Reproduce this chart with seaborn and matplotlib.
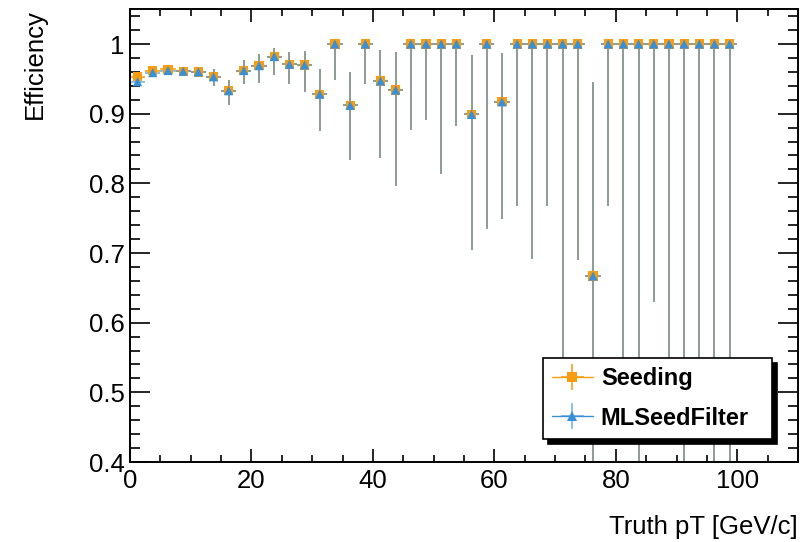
import numpy as np
import pandas as pd
import matplotlib
matplotlib.use("Agg")
import matplotlib.pyplot as plt
from matplotlib.lines import Line2D
from matplotlib.legend_handler import HandlerErrorbar
import seaborn as sns

# ---- data: efficiency per 2.5 GeV/c truth-pT bin ----
pt_centers = [1.25, 3.75, 6.25, 8.75, 11.25, 13.75, 16.25, 18.75, 21.25, 23.75,
              26.25, 28.75, 31.25, 33.75, 36.25, 38.75, 41.25, 43.75, 46.25, 48.75,
              51.25, 53.75, 56.25, 58.75, 61.25, 63.75, 66.25, 68.75, 71.25, 73.75,
              76.25, 78.75, 81.25, 83.75, 86.25, 88.75, 91.25, 93.75, 96.25, 98.75]
bin_half_width = [1.25] * 40

seeding_eff = [0.953, 0.962, 0.964, 0.961, 0.960, 0.953, 0.933, 0.962, 0.969, 0.982,
               0.971, 0.970, 0.928, 1.000, 0.912, 1.000, 0.947, 0.934, 1.000, 1.000,
               1.000, 1.000, 0.899, 1.000, 0.917, 1.000, 1.000, 1.000, 1.000, 1.000,
               0.667, 1.000, 1.000, 1.000, 1.000, 1.000, 1.000, 1.000, 1.000, 1.000]
seeding_lo = [0.948, 0.957, 0.959, 0.955, 0.952, 0.940, 0.913, 0.943, 0.944, 0.955,
              0.943, 0.931, 0.875, 0.949, 0.833, 0.942, 0.836, 0.796, 0.876, 0.891,
              0.814, 0.883, 0.705, 0.735, 0.749, 0.768, 0.691, 0.768, 0.500, 0.690,
              0.300, 0.768, 0.500, 0.160, 0.630, 0.500, 0.160, 0.500, 0.160, 0.160]
seeding_hi = [0.958, 0.966, 0.968, 0.966, 0.967, 0.964, 0.948, 0.977, 0.985, 0.994,
              0.988, 0.990, 0.964, 1.000, 0.960, 1.000, 0.992, 0.989, 1.000, 1.000,
              1.000, 1.000, 0.984, 1.000, 0.987, 1.000, 1.000, 1.000, 1.000, 1.000,
              0.945, 1.000, 1.000, 1.000, 1.000, 1.000, 1.000, 1.000, 1.000, 1.000]

mlfilter_eff = [0.946, 0.959, 0.962, 0.961, 0.960, 0.953, 0.933, 0.962, 0.969, 0.982,
                0.971, 0.970, 0.928, 1.000, 0.912, 1.000, 0.947, 0.934, 1.000, 1.000,
                1.000, 1.000, 0.899, 1.000, 0.917, 1.000, 1.000, 1.000, 1.000, 1.000,
                0.667, 1.000, 1.000, 1.000, 1.000, 1.000, 1.000, 1.000, 1.000, 1.000]
mlfilter_lo = [0.941, 0.954, 0.957, 0.955, 0.952, 0.940, 0.913, 0.943, 0.944, 0.955,
               0.943, 0.931, 0.875, 0.949, 0.833, 0.942, 0.836, 0.796, 0.876, 0.891,
               0.814, 0.883, 0.705, 0.735, 0.749, 0.768, 0.691, 0.768, 0.500, 0.690,
               0.300, 0.768, 0.500, 0.160, 0.630, 0.500, 0.160, 0.500, 0.160, 0.160]
mlfilter_hi = [0.951, 0.964, 0.966, 0.966, 0.967, 0.964, 0.948, 0.977, 0.985, 0.994,
               0.988, 0.990, 0.964, 1.000, 0.960, 1.000, 0.992, 0.989, 1.000, 1.000,
               1.000, 1.000, 0.984, 1.000, 0.987, 1.000, 1.000, 1.000, 1.000, 1.000,
               0.945, 1.000, 1.000, 1.000, 1.000, 1.000, 1.000, 1.000, 1.000, 1.000]

series_names = ["Seeding", "MLSeedFilter"]
x_ticks = [0, 20, 40, 60, 80, 100]
x_tick_labels = ["0", "20", "40", "60", "80", "100"]
y_ticks = [0.4, 0.5, 0.6, 0.7, 0.8, 0.9, 1.0]
y_tick_labels = ["0.4", "0.5", "0.6", "0.7", "0.8", "0.9", "1"]

# ---- style ----
sns.set_theme(style="ticks")
plt.rcParams["font.family"] = ["Liberation Sans", "DejaVu Sans"]
plt.rcParams.update({
    "axes.linewidth": 1.4,
    "text.color": "black",
    "axes.labelcolor": "black",
    "xtick.color": "black",
    "ytick.color": "black",
    "axes.edgecolor": "black",
})

colors = {"Seeding": "#f89c12", "MLSeedFilter": "#3a90d6"}
markers = {"Seeding": "s", "MLSeedFilter": "^"}

df = pd.concat([
    pd.DataFrame({"pt": pt_centers, "eff": seeding_eff, "lo": seeding_lo,
                  "hi": seeding_hi, "sample": "Seeding"}),
    pd.DataFrame({"pt": pt_centers, "eff": mlfilter_eff, "lo": mlfilter_lo,
                  "hi": mlfilter_hi, "sample": "MLSeedFilter"}),
], ignore_index=True)

fig = plt.figure(figsize=(8.08, 5.42), dpi=100)
ax = fig.add_axes([0.1609, 0.1476, 0.9876 - 0.1609, 0.983 - 0.1476])

containers = {}
bar_alpha = {"Seeding": 1.0, "MLSeedFilter": 0.7}
for name in series_names:
    d = df[df["sample"] == name]
    yerr = np.vstack([d["eff"] - d["lo"], d["hi"] - d["eff"]])
    containers[name] = ax.errorbar(d["pt"], d["eff"], xerr=bin_half_width, yerr=yerr,
                                   fmt="none", ecolor=colors[name], elinewidth=1.15,
                                   capsize=0, alpha=bar_alpha[name], zorder=2)

sns.scatterplot(data=df, x="pt", y="eff", hue="sample", style="sample",
                palette=colors, markers=markers, s=44, linewidth=0,
                legend=False, ax=ax, zorder=3)

# ---- axes ----
ax.set_xlim(0, 110)
ax.set_ylim(0.4, 1.05)
ax.set_xticks(x_ticks)
ax.set_xticklabels(x_tick_labels)
ax.set_yticks(y_ticks)
ax.set_yticklabels(y_tick_labels)
ax.set_xticks(np.arange(0, 110.1, 5), minor=True)
ax.set_yticks(np.arange(0.4, 1.051, 0.02), minor=True)
ax.tick_params(which="both", direction="in", top=True, right=True,
               width=1.2, color="black", labelsize=18.5, labelcolor="black")
ax.tick_params(axis="y", which="major", length=14.5, pad=4)
ax.tick_params(axis="y", which="minor", length=7.5)
ax.tick_params(axis="x", which="major", length=9.5, pad=5)
ax.tick_params(axis="x", which="minor", length=5)
for s in ax.spines.values():
    s.set_color("black")

ax.set_xlabel("Truth pT [GeV/c]", fontsize=18.5, loc="right", labelpad=16)
ax.set_ylabel("Efficiency", fontsize=18.5, loc="top", labelpad=30)

# ---- legend ----
handles = []
for name in series_names:
    proxy = Line2D([], [], color=colors[name], lw=1.0, marker=markers[name],
                   markersize=7, markeredgewidth=0)
    handles.append((containers[name], proxy))
leg = ax.legend(handles, series_names, loc="lower left",
                bbox_to_anchor=(0.672, 0.190, 0.283, 0.157),
                bbox_transform=fig.transFigure, mode="expand",
                prop={"weight": "bold", "size": 17},
                frameon=True, fancybox=False, borderaxespad=0,
                borderpad=0.4, labelspacing=0.7, handlelength=1.7,
                handletextpad=0.35,
                handler_map={type(containers["Seeding"]): HandlerErrorbar(xerr_size=0.5, yerr_size=0.55)},
                shadow={"ox": 3.6, "oy": -3.6, "color": "black", "alpha": 1})
leg.get_frame().set_edgecolor("black")
leg.get_frame().set_linewidth(1.2)
leg.get_frame().set_alpha(1)
for t in leg.get_texts():
    t.set_color("black")

fig.savefig("out.png", dpi=100)
